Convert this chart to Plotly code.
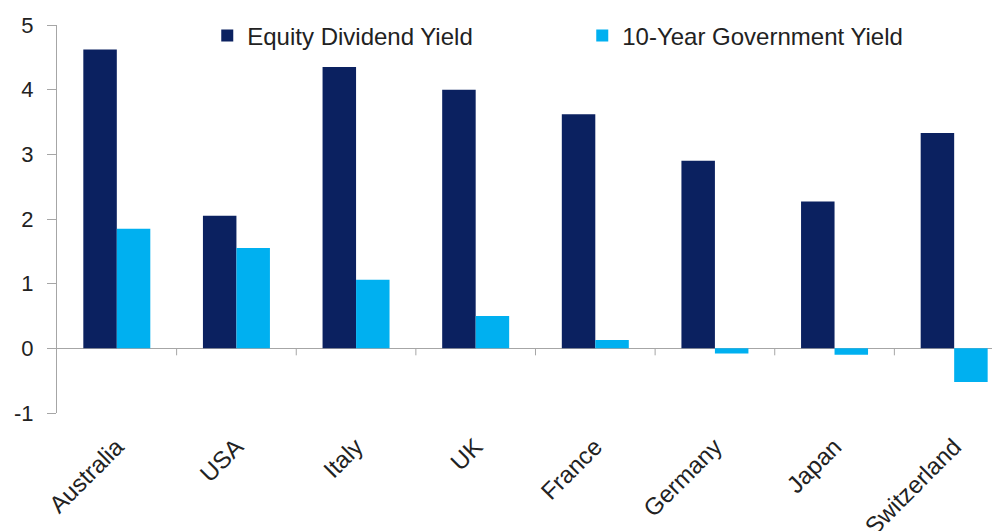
import plotly.graph_objects as go

countries = ["Australia", "USA", "Italy", "UK", "France", "Germany", "Japan", "Switzerland"]
equity_dividend_yield = [4.62, 2.05, 4.35, 4.00, 3.62, 2.90, 2.27, 3.33]
gov_10y_yield = [1.85, 1.55, 1.06, 0.50, 0.13, -0.08, -0.10, -0.52]
y_ticks = [-1, 0, 1, 2, 3, 4, 5]
y_tick_text = ["-1", "0", "1", "2", "3", "4", "5"]

fig = go.Figure()
fig.add_trace(go.Bar(x=countries, y=equity_dividend_yield, name="Equity Dividend Yield",
                     marker=dict(color="#0b2160", line=dict(width=0))))
fig.add_trace(go.Bar(x=countries, y=gov_10y_yield, name="10-Year Government Yield",
                     marker=dict(color="#00b0f0", line=dict(width=0))))

fig.update_layout(
    width=1000, height=531,
    paper_bgcolor="white", plot_bgcolor="white",
    margin=dict(l=49, r=0, t=17, b=126),
    barmode="group", bargap=0.44, bargroupgap=0,
    font=dict(family="Liberation Sans, Arial, sans-serif", color="#222222"),
    showlegend=True,
    legend=dict(orientation="h", x=0.158, y=1.03, xanchor="left", yanchor="top",
                font=dict(size=24, color="#222222"), bgcolor="rgba(0,0,0,0)",
                entrywidth=330, entrywidthmode="pixels", traceorder="normal"),
    xaxis=dict(range=[-0.5, 7.45], showgrid=False, showline=False, zeroline=False,
               tickangle=-45, tickfont=dict(size=24, color="#222222"),
               ticks="", ticklen=0, automargin=False, ticklabelstandoff=14),
    yaxis=dict(range=[-1, 5], tickvals=y_ticks, ticktext=y_tick_text, showgrid=False,
               showline=True, linecolor="#a6a6a6", linewidth=1, ticks="outside", ticklen=9,
               tickcolor="#a6a6a6", zeroline=True, zerolinecolor="#a6a6a6",
               zerolinewidth=1, tickfont=dict(size=22, color="#222222"),
               ticklabelstandoff=9, automargin=False),
)

# category separator tick marks on the zero line
for i in range(1, 8):
    fig.add_shape(type="line", xref="x", yref="paper", x0=i - 0.5, x1=i - 0.5,
                  y0=1/6, y1=1/6 - 0.018, line=dict(color="#a6a6a6", width=1))

fig.write_html("out.html")
